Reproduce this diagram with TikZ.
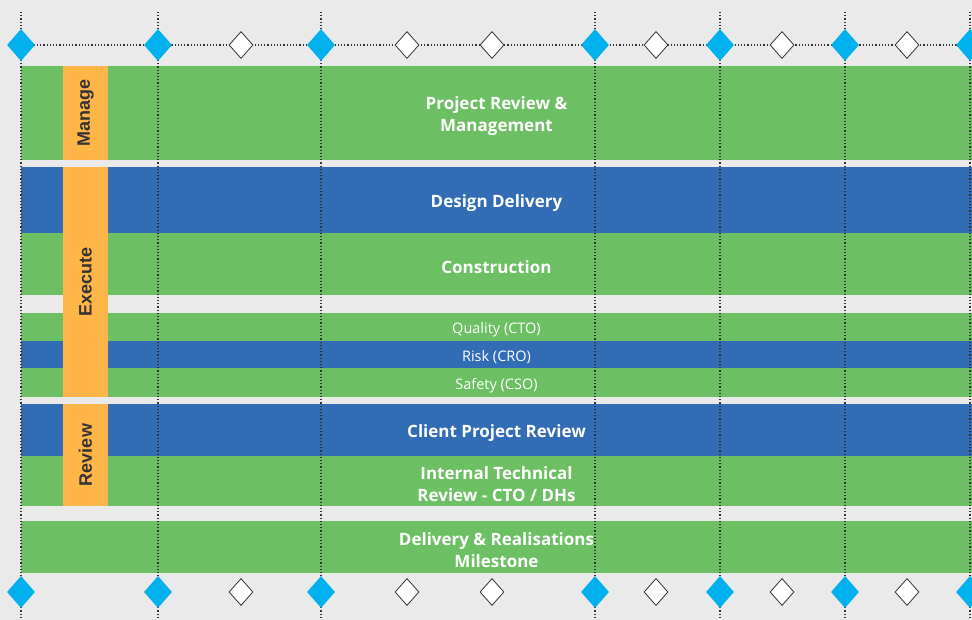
\documentclass[tikz,border=0pt]{standalone}
\usepackage{fontspec}
\setmainfont{Open Sans}
\newfontfamily\phasefont{Liberation Sans}
\usetikzlibrary{shapes.geometric}
\definecolor{bandgreen}{HTML}{6CC063}
\definecolor{bandblue}{HTML}{316CB5}
\definecolor{phaseorange}{HTML}{FFB548}
\definecolor{milecyan}{HTML}{00B1EE}
\definecolor{bggray}{HTML}{EAEAEA}
\definecolor{dotgray}{HTML}{333333}

\begin{document}
\begin{tikzpicture}[x=1pt,y=-1pt,
  band/.style={minimum width=951pt,inner sep=0pt},
  band text/.style={text=white,align=center,yshift=-3pt,
    font=\fontsize{17}{22.5}\selectfont\bfseries},
  thin text/.style={band text,font=\fontsize{14.5}{16}\selectfont},
  phase/.style={fill=phaseorange,rotate=90,minimum height=45pt,inner sep=0pt,
    text=dotgray,font=\phasefont\fontsize{18}{18}\selectfont\bfseries},
  milestone/.style={diamond,fill=milecyan,minimum width=28pt,minimum height=32pt,inner sep=0pt},
  checkpoint/.style={diamond,fill=white,draw=dotgray,line width=0.8pt,
    minimum width=24pt,minimum height=27pt,inner sep=0pt},
  grid line/.style={dotgray,line width=1.2pt,dash pattern=on 1.2pt off 2pt},
]
\fill[bggray] (0,0) rectangle (972,620);
\useasboundingbox (0,0) rectangle (972,620);

% bands
\node[band,fill=bandgreen,minimum height=94pt] (review mgmt) at (496.5,113) {};
\node[band,fill=bandblue,minimum height=66pt] (design) at (496.5,200) {};
\node[band,fill=bandgreen,minimum height=62pt] (construction) at (496.5,264) {};
\node[band,fill=bandgreen,minimum height=28pt] (quality) at (496.5,327) {};
\node[band,fill=bandblue,minimum height=27pt] (risk) at (496.5,354.5) {};
\node[band,fill=bandgreen,minimum height=29pt] (safety) at (496.5,382.5) {};
\node[band,fill=bandblue,minimum height=52pt] (client) at (496.5,430) {};
\node[band,fill=bandgreen,minimum height=50pt] (internal) at (496.5,481) {};
\node[band,fill=bandgreen,minimum height=52pt] (delivery) at (496.5,547) {};

% band labels
\node[band text] (review mgmt text) at (review mgmt) {Project Review \&\\Management};
\node[band text] (design text) at (design) {Design Delivery};
\node[band text] (construction text) at (construction) {Construction};
\node[thin text] (quality text) at (quality) {Quality (CTO)};
\node[thin text] (risk text) at (risk) {Risk (CRO)};
\node[thin text] (safety text) at (safety) {Safety (CSO)};
\node[band text] (client text) at (client) {Client Project Review};
\node[band text] (internal text) at (internal) {Internal Technical\\Review - CTO / DHs};
\node[band text] (delivery text) at (delivery) {Delivery \& Realisations\\Milestone};

% phases
\node[phase,minimum width=94pt] (manage) at (85.5,113) {Manage};
\node[phase,minimum width=230pt] (execute) at (85.5,282) {Execute};
\node[phase,minimum width=102pt] (review) at (85.5,455) {Review};

% dotted grid
\coordinate (g1a) at (21,12);  \coordinate (g1b) at (21,620);
\coordinate (g2a) at (158,12); \coordinate (g2b) at (158,620);
\coordinate (g3a) at (321,12); \coordinate (g3b) at (321,620);
\coordinate (g4a) at (595,12); \coordinate (g4b) at (595,620);
\coordinate (g5a) at (720,12); \coordinate (g5b) at (720,620);
\coordinate (g6a) at (845,12); \coordinate (g6b) at (845,620);
\coordinate (g7a) at (970,12); \coordinate (g7b) at (970,620);
\coordinate (ha) at (21,45);   \coordinate (hb) at (972,45);
\draw[grid line] (g1a) -- (g1b);
\draw[grid line] (g2a) -- (g2b);
\draw[grid line] (g3a) -- (g3b);
\draw[grid line] (g4a) -- (g4b);
\draw[grid line] (g5a) -- (g5b);
\draw[grid line] (g6a) -- (g6b);
\draw[grid line] (g7a) -- (g7b);
\draw[grid line] (ha) -- (hb);

% top milestones
\node[milestone] (t1) at (21,45) {};
\node[milestone] (t2) at (158,45) {};
\node[checkpoint] (t3) at (241,45) {};
\node[milestone] (t4) at (321,45) {};
\node[checkpoint] (t5) at (407,45) {};
\node[checkpoint] (t6) at (492,45) {};
\node[milestone] (t7) at (595,45) {};
\node[checkpoint] (t8) at (656,45) {};
\node[milestone] (t9) at (720,45) {};
\node[checkpoint] (t10) at (782,45) {};
\node[milestone] (t11) at (845,45) {};
\node[checkpoint] (t12) at (907,45) {};
\node[milestone] (t13) at (970,45) {};

% bottom milestones
\node[milestone] (b1) at (21,592) {};
\node[milestone] (b2) at (158,592) {};
\node[checkpoint] (b3) at (241,592) {};
\node[milestone] (b4) at (321,592) {};
\node[checkpoint] (b5) at (407,592) {};
\node[checkpoint] (b6) at (492,592) {};
\node[milestone] (b7) at (595,592) {};
\node[checkpoint] (b8) at (656,592) {};
\node[milestone] (b9) at (720,592) {};
\node[checkpoint] (b10) at (782,592) {};
\node[milestone] (b11) at (845,592) {};
\node[checkpoint] (b12) at (907,592) {};
\node[milestone] (b13) at (970,592) {};
\end{tikzpicture}
\end{document}
